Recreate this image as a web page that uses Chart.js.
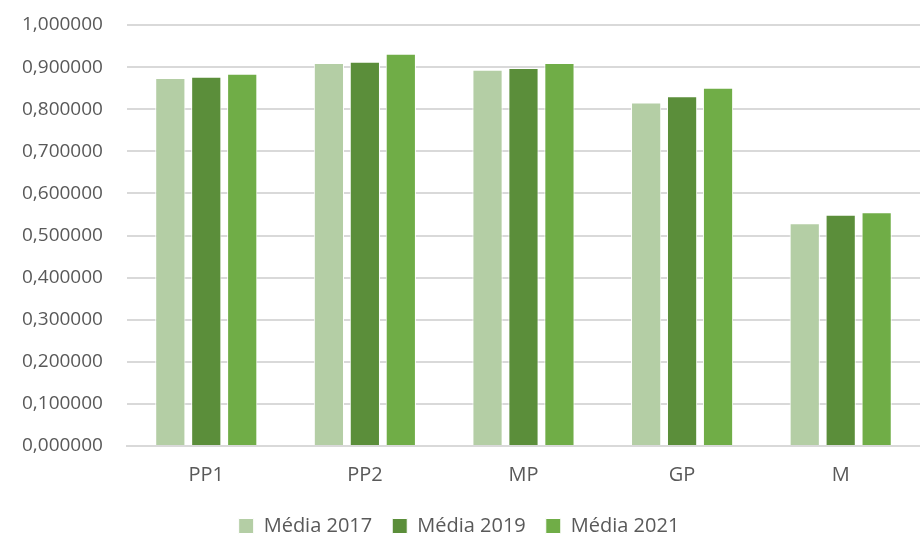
<!DOCTYPE html>
<html>
<head>
<meta charset="utf-8">
<script src="https://cdn.jsdelivr.net/npm/chart.js@4"></script>
<style>
  html, body { margin: 0; padding: 0; background: #fff; }
  #box { width: 920px; height: 535px; }
</style>
</head>
<body>
<div id="box"><canvas id="graph"></canvas></div>
<script>
var categories = ['PP1', 'PP2', 'MP', 'GP', 'M'];
var seriesNames = ['Média 2017', 'Média 2019', 'Média 2021'];
var media2017 = [0.874, 0.910, 0.894, 0.816, 0.529];
var media2019 = [0.877, 0.913, 0.898, 0.831, 0.549];
var media2021 = [0.884, 0.932, 0.910, 0.851, 0.555];
var seriesColors = ['#b4cea5', '#5b8e3a', '#70ad47'];

const graphData = {
  labels: categories,
  datasets: [media2017, media2019, media2021].map(function (vals, i) {
    return {
      label: seriesNames[i],
      data: vals,
      backgroundColor: seriesColors[i],
      borderColor: '#ffffff',
      borderWidth: 1,
      barPercentage: 0.84,
      categoryPercentage: 0.68
    };
  })
};

const config = {
  type: 'bar',
  data: graphData,
  options: {
    responsive: true,
    maintainAspectRatio: false,
    animation: false,
    layout: { padding: { top: 25, right: 0, left: -2, bottom: -11 } },
    plugins: {
      tooltip: { enabled: false },
      legend: {
        position: 'bottom',
        labels: {
          color: '#595959',
          font: { family: 'Open Sans', size: 20 },
          boxWidth: 15,
          boxHeight: 15,
          padding: 20
        }
      }
    },
    scales: {
      x: {
        grid: { display: false },
        border: { color: '#d9d9d9', width: 2 },
        ticks: { color: '#595959', font: { family: 'Open Sans', size: 20 }, padding: 9 }
      },
      y: {
        min: 0,
        max: 1,
        afterFit: function (scale) { scale.paddingTop = 0; },
        ticks: {
          stepSize: 0.1,
          color: '#595959',
          font: { family: 'Open Sans', size: 19 },
          padding: 24,
          callback: function (v) { return v.toFixed(6).replace('.', ','); }
        },
        grid: { color: '#d9d9d9', lineWidth: 2, drawTicks: false },
        border: { display: false }
      }
    }
  }
};

var myChart = new Chart(document.getElementById('graph'), config);
</script>
</body>
</html>
